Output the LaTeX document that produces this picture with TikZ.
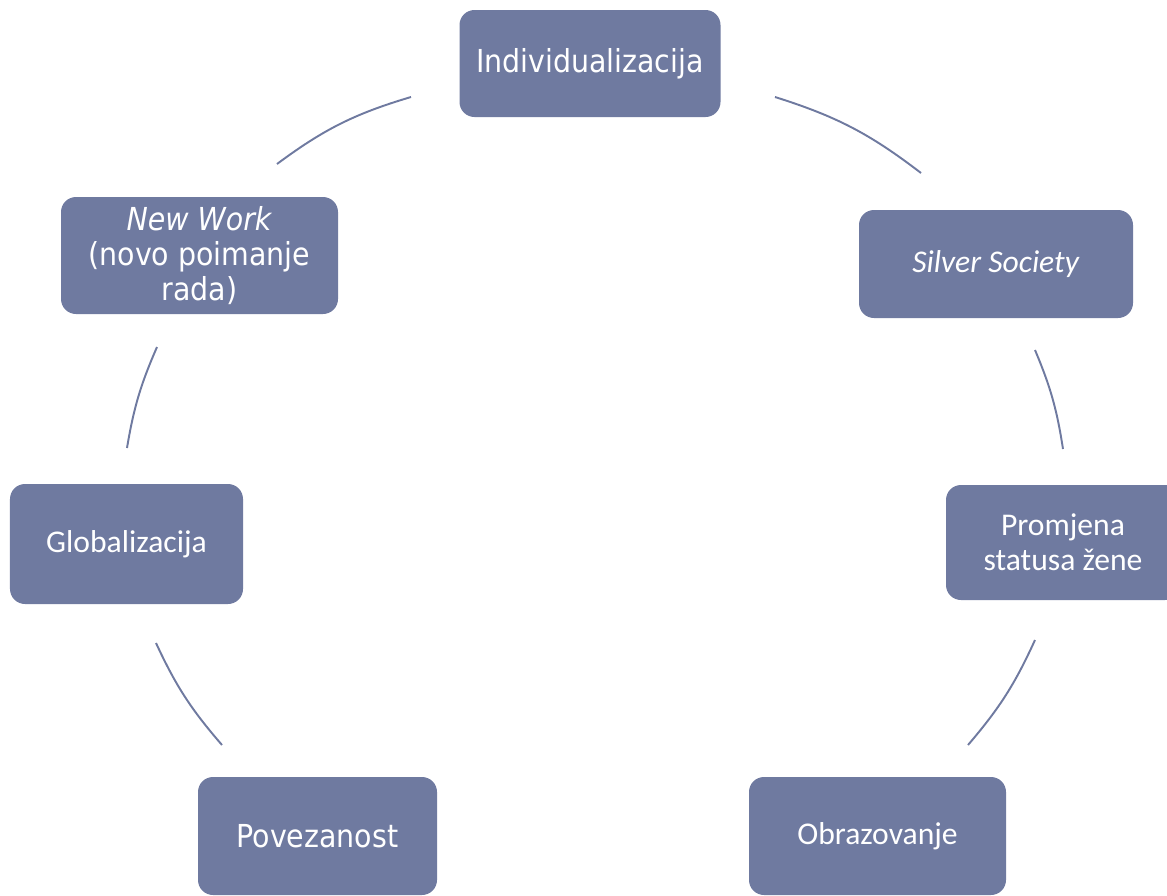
\documentclass[tikz,border=0pt]{standalone}
\usepackage{fontspec}
\newfontfamily\tahfont{DejaVu Sans Condensed}
\newfontfamily\calfont{Carlito}
\definecolor{slateblue}{RGB}{111,122,160}
\begin{document}
\begin{tikzpicture}[
  box/.style={draw=none, fill=slateblue, rounded corners=0.3cm, text=white,
    align=center, inner sep=0pt},
  tah/.style={font=\tahfont\fontsize{18}{20}\selectfont},
  cal/.style={font=\calfont\fontsize{18}{20}\selectfont},
  link/.style={draw=slateblue, line width=1.1pt}]
\useasboundingbox (0,0) rectangle (23.34,-17.92);
\node[box, tah, minimum width=5.22cm, minimum height=2.14cm] (indiv) at (11.8,-1.27) {Individualizacija};
\node[box, cal, minimum width=5.48cm, minimum height=2.16cm] (silver) at (19.92,-5.28) {\textit{Silver Society}};
\node[box, cal, minimum width=4.68cm, minimum height=2.3cm] (zene) at (21.26,-10.85) {Promjena\\statusa žene};
\node[box, cal, minimum width=5.14cm, minimum height=2.36cm] (obraz) at (17.55,-16.72) {Obrazovanje};
\node[box, tah, minimum width=4.78cm, minimum height=2.36cm] (povez) at (6.35,-16.72) {Povezanost};
\node[box, cal, minimum width=4.66cm, minimum height=2.4cm] (global) at (2.53,-10.88) {Globalizacija};
\node[box, tah, minimum width=5.54cm, minimum height=2.34cm] (newwork) at (3.99,-5.11) {\textit{New Work}\\(novo poimanje\\rada)};
\coordinate (a1s) at (15.5,-1.94);
\coordinate (a1e) at (18.42,-3.46);
\coordinate (a2s) at (20.7,-7.0);
\coordinate (a2e) at (21.26,-8.98);
\coordinate (a3s) at (20.7,-12.8);
\coordinate (a3e) at (19.36,-14.9);
\coordinate (a5s) at (4.44,-14.9);
\coordinate (a5e) at (3.12,-12.86);
\coordinate (a6s) at (2.54,-8.96);
\coordinate (a6e) at (3.14,-6.94);
\coordinate (a7s) at (5.54,-3.28);
\coordinate (a7e) at (8.22,-1.94);
\draw[link] (a1s) to[bend left=10] (a1e);
\draw[link] (a2s) to[bend left=7] (a2e);
\draw[link] (a3s) to[bend left=8] (a3e);
\draw[link] (a5s) to[bend left=8] (a5e);
\draw[link] (a6s) to[bend left=7] (a6e);
\draw[link] (a7s) to[bend left=10] (a7e);
\end{tikzpicture}
\end{document}
